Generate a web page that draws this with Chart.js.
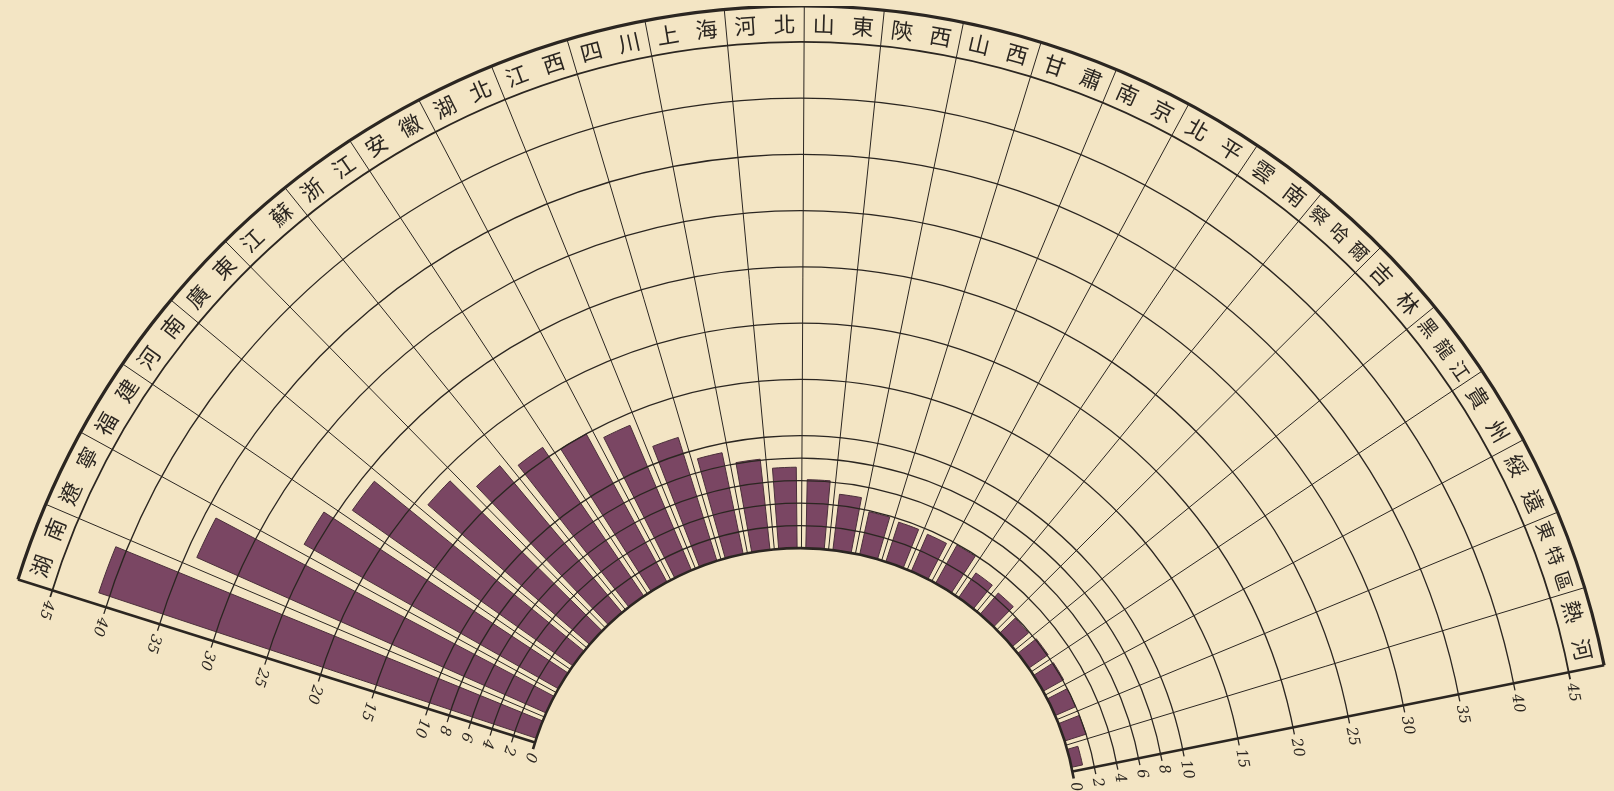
<!DOCTYPE html>
<html lang="zh-Hant">
<head>
<meta charset="utf-8">
<title>各省比較圖</title>
<script src="https://cdn.jsdelivr.net/npm/chart.js@4.4.1/dist/chart.umd.min.js"></script>
<style>
    html, body { margin: 0; padding: 0; width: 1614px; height: 791px; overflow: hidden; background: #f3e5c4; }
    /* 扇形圓心在畫面下方，所以畫布比視窗大 */
    #fan { position: absolute; left: -20px; top: 6px; width: 1640px; height: 1640px; }
</style>
</head>
<body>
<div id="fan"><canvas id="fanChart"></canvas></div>
<script>
// 省份（由左至右）
const provinces = ['湖南', '遼寧', '福建', '河南', '廣東', '江蘇', '浙江', '安徽', '湖北',
    '江西', '四川', '上海', '河北', '山東', '陝西', '山西', '甘肅', '南京', '北平',
    '雲南', '察哈爾', '吉林', '黑龍江', '貴州', '綏遠', '東特區', '熱河'];

// 各省數值
const counts = [41, 34, 26, 24, 19, 17, 16, 15, 14,
    11.5, 9.2, 8.1, 7.2, 6.1, 5, 3.9, 3.7, 3.6, 3.9,
    2.7, 2.5, 1.9, 2.1, 2.1, 2, 2, 1];

// 半徑刻度
const radialTicks = [0, 2, 4, 6, 8, 10, 15, 20, 25, 30, 35, 40, 45];

// 版面
const FAN_START = -72.5;   // 度，0 = 正上方，順時針
const FAN_SPAN = 151.2;
const HOLE = -24.7;        // 比例尺下限，留出中間空心
const BAND = 48.2;         // 外圈標籤帶外緣
const BAR_FILL = 0.68;     // 長條佔扇區的比例
const INK = '#2b2621';

function ring(ctx, x, y, r, a0, a1, width) {
    ctx.beginPath();
    ctx.lineWidth = width;
    ctx.arc(x, y, r, a0, a1);
    ctx.stroke();
}

function spoke(ctx, x, y, a, r1, r2, width) {
    ctx.beginPath();
    ctx.lineWidth = width;
    ctx.moveTo(x + r1 * Math.cos(a), y + r1 * Math.sin(a));
    ctx.lineTo(x + r2 * Math.cos(a), y + r2 * Math.sin(a));
    ctx.stroke();
}

function fanGeometry(chart) {
    const scale = chart.scales.r;
    const step = FAN_SPAN / provinces.length * Math.PI / 180;
    const a0 = scale.getIndexAngle(0) - Math.PI / 2;
    return {
        scale,
        cx: scale.xCenter,
        cy: scale.yCenter,
        rOf: v => scale.getDistanceFromCenterForValue(v),
        step,
        a0,
        a1: a0 + step * provinces.length
    };
}

const fanPlugin = {
    id: 'fan',

    // 長條從 0 圈開始，並在扇區之間留空隙
    afterUpdate(chart) {
        const g = fanGeometry(chart);
        const r0 = g.rOf(0);
        chart.getDatasetMeta(0).data.forEach(arc => {
            const pad = (arc.endAngle - arc.startAngle) * (1 - BAR_FILL) / 2;
            arc.innerRadius = r0;
            arc.startAngle += pad;
            arc.endAngle -= pad;
        });
    },

    // 扇區分隔線
    beforeDatasetsDraw(chart) {
        const {ctx} = chart;
        const g = fanGeometry(chart);
        ctx.save();
        ctx.strokeStyle = INK;
        for (let i = 1; i < provinces.length; i++) {
            spoke(ctx, g.cx, g.cy, g.a0 + g.step * i, g.rOf(0), g.rOf(BAND), 1);
        }
        ctx.restore();
    },

    afterDatasetsDraw(chart) {
        const {ctx} = chart;
        const g = fanGeometry(chart);
        const {cx, cy, rOf, a0, a1, step} = g;
        ctx.save();
        ctx.strokeStyle = INK;
        ctx.fillStyle = INK;

        // 刻度圓弧
        radialTicks.forEach(v => {
            const r = rOf(v);
            const ext = 7 / r;
            const w = v === 0 ? 2.6 : (v === 45 ? 1.8 : 1.3);
            ring(ctx, cx, cy, r, a0 - ext, a1 + ext, w);
        });
        ring(ctx, cx, cy, rOf(BAND), a0, a1, 3.2);

        // 兩側邊線
        spoke(ctx, cx, cy, a0, rOf(0), rOf(BAND), 2.6);
        spoke(ctx, cx, cy, a1, rOf(0), rOf(BAND), 2.6);

        // 省名
        ctx.textAlign = 'center';
        ctx.textBaseline = 'middle';
        const rText = (rOf(45) + rOf(BAND)) / 2;
        provinces.forEach((name, i) => {
            const chars = Array.from(name);
            const n = chars.length;
            const gap = n === 2 ? 0.5 : 0.34;
            ctx.font = (n === 2 ? 22 : 19) + 'px "Noto Sans CJK TC"';
            chars.forEach((ch, k) => {
                const a = a0 + step * (i + 0.5 + (k - (n - 1) / 2) * gap);
                ctx.save();
                ctx.translate(cx + rText * Math.cos(a), cy + rText * Math.sin(a));
                ctx.rotate(a + Math.PI / 2);
                ctx.fillText(ch, 0, 0);
                ctx.restore();
            });
        });

        // 刻度數字（左右兩邊）
        ctx.font = 'italic 15px "DejaVu Serif"';
        ctx.textAlign = 'left';
        radialTicks.forEach(v => {
            const r = rOf(v);
            [[a0, -1], [a1, 1]].forEach(([a, side]) => {
                const tx = side < 0 ? Math.sin(a) : -Math.sin(a);
                const ty = side < 0 ? -Math.cos(a) : Math.cos(a);
                ctx.save();
                ctx.translate(cx + r * Math.cos(a) + tx * 11, cy + r * Math.sin(a) + ty * 11);
                ctx.rotate(side < 0 ? a - Math.PI / 2 : a + Math.PI / 2);
                ctx.fillText(String(v), 0, 0);
                ctx.restore();
            });
        });
        ctx.restore();
    }
};

new Chart(document.getElementById('fanChart'), {
    type: 'polarArea',
    data: {
        labels: provinces,
        datasets: [{
            data: counts,
            angle: FAN_SPAN / provinces.length,
            backgroundColor: '#7a4663',
            borderColor: '#4a2f3a',
            borderWidth: 1
        }]
    },
    options: {
        responsive: true,
        maintainAspectRatio: false,
        animation: false,
        events: [],
        layout: { padding: 0 },
        plugins: {
            legend: { display: false },
            tooltip: { enabled: false }
        },
        scales: {
            r: {
                min: HOLE,
                max: BAND,
                startAngle: FAN_START,
                grid: { display: false },
                angleLines: { display: false },
                pointLabels: { display: false },
                ticks: { display: false }
            }
        }
    },
    plugins: [fanPlugin]
});
</script>
</body>
</html>
